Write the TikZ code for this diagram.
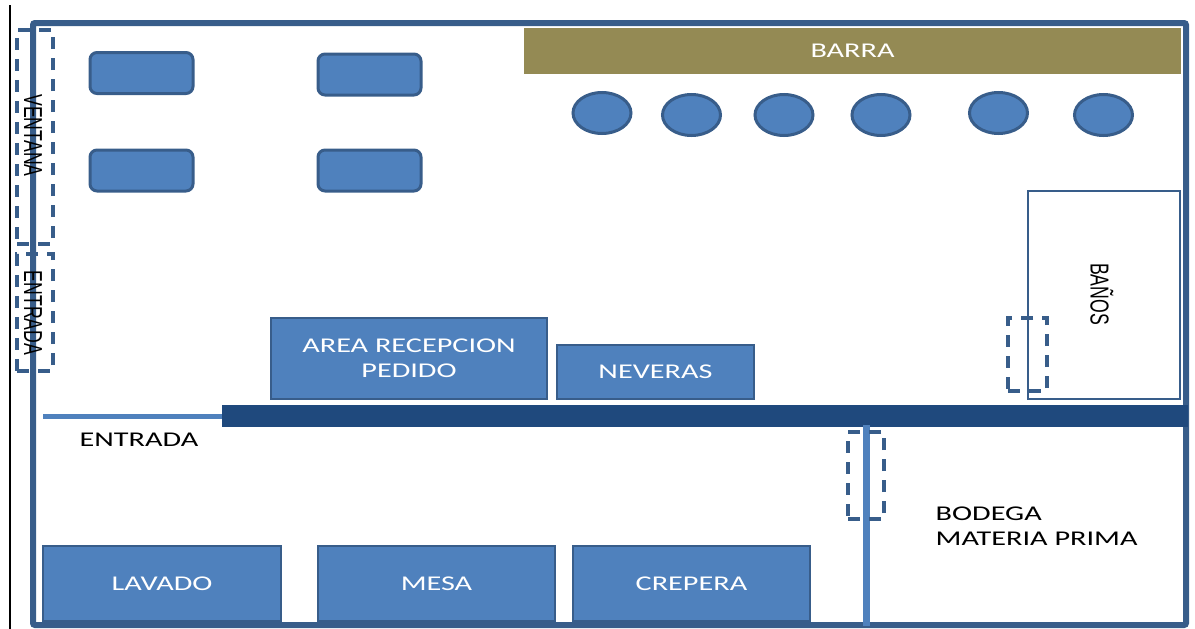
\documentclass[tikz,border=0pt]{standalone}
\usepackage{fontspec}
\setmainfont[FakeStretch=1.44]{Carlito}
\newfontfamily\girofont[FakeStretch=0.68]{Liberation Sans}
\usetikzlibrary{shapes.geometric}
\definecolor{borde}{HTML}{385D8A}
\definecolor{relleno}{HTML}{4F81BD}
\definecolor{muro}{HTML}{1F497D}
\definecolor{oliva}{HTML}{948A54}
\tikzset{
  caja/.style={rectangle, draw=borde, fill=relleno, line width=2.4pt, inner sep=0pt, text=white, align=center, font=\fontsize{21}{25}\selectfont},
  mesita/.style={rectangle, rounded corners=7pt, draw=borde, fill=relleno, line width=3pt, minimum width=103pt, minimum height=41pt},
  banco/.style={ellipse, draw=borde, fill=relleno, line width=3pt, minimum width=58pt, minimum height=41pt, inner sep=0pt},
  puerta/.style={rectangle, draw=borde, line width=3.2pt, dash pattern=on 12pt off 9pt, inner sep=0pt},
  rotulo/.style={text=black, align=left, inner sep=0pt, font=\fontsize{21}{25}\selectfont},
  giro/.style={text=black, rotate=-90, inner sep=0pt, font=\girofont\fontsize{26}{28}\selectfont}
}

\begin{document}
\begin{tikzpicture}[x=1pt, y=-1pt]
    \useasboundingbox (0, 0) rectangle (1195, 629);

    % contorno
    \draw[black, line width=1.2pt] (10, 5) -- (10, 629);
    \node[rectangle, draw=borde, line width=6pt, rounded corners=2pt, inner sep=0pt, minimum width=1153pt, minimum height=602pt] (local) at (609.5, 324) {};

    % barra
    \node[rectangle, fill=oliva, text=white, inner sep=0pt, minimum width=657pt, minimum height=46pt, font=\fontsize{21}{25}\selectfont] (barra) at (852.5, 50.5) {BARRA};

    % bancos
    \node[banco] (banco1) at (602, 113) {};
    \node[banco] (banco2) at (691.5, 115) {};
    \node[banco] (banco3) at (784, 115) {};
    \node[banco] (banco4) at (881, 115) {};
    \node[banco] (banco5) at (998.5, 113) {};
    \node[banco] (banco6) at (1103.5, 115) {};

    % mesas
    \node[mesita] (mesa1) at (141.5, 73) {};
    \node[mesita] (mesa2) at (369.5, 74.5) {};
    \node[mesita] (mesa3) at (141.5, 170.5) {};
    \node[mesita] (mesa4) at (369.5, 170.5) {};

    % muros
    \node[rectangle, fill=muro, inner sep=0pt, minimum width=966pt, minimum height=22pt] (muro) at (705, 416) {};
    \coordinate (entradaIni) at (43, 416);
    \draw[relleno, line width=5pt] (entradaIni) -- (muro.west);
    \coordinate (tabiqueIni) at (866, 425);
    \coordinate (tabiqueFin) at (866, 626);
    \draw[relleno, line width=7pt] (tabiqueIni) -- (tabiqueFin);

    % areas
    \node[caja, minimum width=276pt, minimum height=81pt] (recepcion) at (409, 358.5) {AREA RECEPCION\\PEDIDO};
    \node[caja, minimum width=197pt, minimum height=54pt] (neveras) at (655.5, 372) {NEVERAS};
    \node[caja, minimum width=238pt, minimum height=75pt] (lavado) at (162, 583.5) {LAVADO};
    \node[caja, minimum width=237pt, minimum height=75pt] (mesa) at (436.5, 583.5) {MESA};
    \node[caja, minimum width=237pt, minimum height=75pt] (crepera) at (691.5, 583.5) {CREPERA};

    % banos
    \node[rectangle, draw=borde, fill=white, line width=2.6pt, inner sep=0pt, minimum width=152pt, minimum height=208pt] (banos) at (1104, 295) {};
    \node[giro] (banosTxt) at (1102, 294) {BAÑOS};

    % puertas
    \node[puerta, minimum width=36pt, minimum height=214pt] (ventana) at (35, 137) {};
    \node[puerta, minimum width=36pt, minimum height=117pt] (entradaLat) at (35, 312.5) {};
    \node[puerta, minimum width=39pt, minimum height=73pt] (puertaBanos) at (1027.5, 354.5) {};
    \node[puerta, minimum width=36pt, minimum height=87pt] (puertaBodega) at (866, 475.5) {};
    \node[giro] (ventanaTxt) at (33, 135.5) {VENTANA};
    \node[giro] (entradaTxt) at (33, 313) {ENTRADA};

    % rotulos
    \node[rotulo] (entrada) at (139, 440) {ENTRADA};
    \node[rotulo, anchor=west] (bodega) at (935.5, 526.5) {BODEGA\\MATERIA PRIMA};
\end{tikzpicture}
\end{document}
